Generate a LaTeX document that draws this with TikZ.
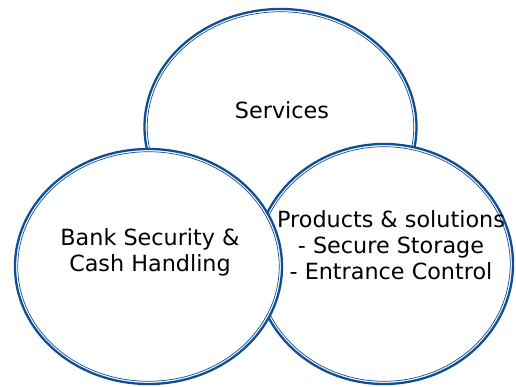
\documentclass[tikz,border=0pt]{standalone}
\usepackage{fontspec}
\setmainfont{DejaVu Sans}
\usetikzlibrary{shapes.geometric}
\definecolor{ringblue}{RGB}{16,78,146}
\tikzset{
  ringouter/.style={ellipse, draw=ringblue, fill=white, line width=2.3pt, inner sep=0pt},
  ringinner/.style={ellipse, draw=ringblue, line width=0.7pt, inner sep=0pt},
  label/.style={align=center, font=\fontsize{22.3}{26}\selectfont, text=black, inner sep=0pt}
}
\begin{document}
\begin{tikzpicture}[x=1pt,y=-1pt]
\useasboundingbox (0,0) rectangle (516,387);
% top circle
\node[ringouter, minimum width=272pt, minimum height=236pt] (top) at (280.5,127) {};
\node[ringinner, minimum width=266.5pt, minimum height=230.5pt] (topin) at (top.center) {};
% right circle
\node[ringouter, minimum width=258pt, minimum height=240pt] (right) at (384,264) {};
\node[ringinner, minimum width=252.5pt, minimum height=234.5pt] (rightin) at (right.center) {};
% left circle
\node[ringouter, minimum width=267pt, minimum height=235pt] (left) at (148.5,266.5) {};
\node[ringinner, minimum width=261.5pt, minimum height=229.5pt] (leftin) at (left.center) {};
% texts
\node[label] (services) at (282,110) {Services};
\node[label] (bank) at (150,252) {Bank Security \&\\ Cash Handling};
\node[label] (products) at (391,245) {Products \& solutions\\- Secure Storage\\- Entrance Control};
\end{tikzpicture}
\end{document}
